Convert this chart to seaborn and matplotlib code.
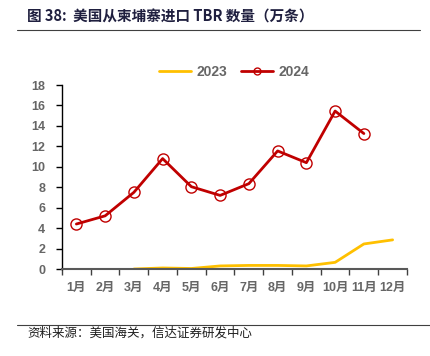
import numpy as np
import pandas as pd
import matplotlib
matplotlib.use("Agg")
import matplotlib.pyplot as plt
import seaborn as sns

months = ["1月", "2月", "3月", "4月", "5月", "6月", "7月", "8月", "9月", "10月", "11月", "12月"]
values_2023 = [None, None, 0.0, 0.1, 0.05, 0.3, 0.35, 0.35, 0.3, 0.65, 2.45, 2.85]
values_2024 = [4.4, 5.2, 7.5, 10.8, 8.05, 7.2, 8.35, 11.55, 10.4, 15.45, 13.25, None]
yticks = [0, 2, 4, 6, 8, 10, 12, 14, 16, 18]

sns.set_theme(style="white")
plt.rcParams['font.family'] = ['Liberation Sans', 'Noto Sans CJK SC', 'DejaVu Sans']

df = pd.DataFrame({
    "x": list(range(12)) * 2,
    "value": [np.nan if v is None else v for v in values_2023] + [np.nan if v is None else v for v in values_2024],
    "series": ["2023"] * 12 + ["2024"] * 12,
})

fig = plt.figure(figsize=(4.31, 3.56), dpi=100)
ax = fig.add_axes([62 / 431, 1 - 269 / 356, (407 - 62) / 431, (269 - 85) / 356])

d23 = df[df.series == "2023"].dropna()
d24 = df[df.series == "2024"].dropna()
sns.lineplot(data=d23, x="x", y="value", ax=ax, color="#FFC000", linewidth=2.0, label="2023")
sns.lineplot(data=d24, x="x", y="value", ax=ax, color="#C00000", linewidth=2.0,
             marker="o", markersize=8, markerfacecolor="none", markeredgecolor="#C00000",
             markeredgewidth=1.0, label="2024")

ax.set_xlim(-0.5, 11.5)
ax.set_ylim(0, 18)
ax.set_yticks(yticks)
ax.set_yticklabels([str(t) for t in yticks])
ax.set_xticks(range(12))
ax.set_xticklabels(months)
ax.set_xticks(np.arange(-0.5, 12, 1), minor=True)
ax.tick_params(axis="x", which="major", length=0, pad=9)
ax.tick_params(axis="x", which="minor", length=4, width=1, color="#404040", direction="out", bottom=True)
ax.tick_params(axis="y", length=4, width=1, color="black", direction="out", left=True, pad=8)
for lab in ax.get_xticklabels() + ax.get_yticklabels():
    lab.set_color("#666666")
    lab.set_fontsize(9)
    lab.set_fontweight("bold")
ax.set_xlabel("")
ax.set_ylabel("")
for s in ["top", "right"]:
    ax.spines[s].set_visible(False)
ax.spines["left"].set_color("black")
ax.spines["left"].set_linewidth(1.0)
ax.spines["bottom"].set_color("#595959")
ax.spines["bottom"].set_linewidth(1.5)
ax.grid(False)

leg = ax.legend(loc="center", bbox_to_anchor=(0.5, (269 - 71.5) / (269 - 85)), ncol=2,
                frameon=False, handlelength=2.3, handletextpad=0.4, columnspacing=1.0,
                prop={"weight": "bold", "size": 10})
for t in leg.get_texts():
    t.set_color("#666666")
leg.legend_handles[1].set_markersize(5)

fig.text(27 / 431, 1 - 17 / 356, "图 38:  美国从柬埔寨进口 TBR 数量（万条）", fontsize=10.5, fontweight="bold",
         color="#1F1F3F", va="center", ha="left", family=['Noto Sans CJK SC', 'DejaVu Sans'])
fig.add_artist(plt.Line2D([17 / 431, 420 / 431], [1 - 30 / 356, 1 - 30 / 356], color="#404040", linewidth=0.8))
fig.add_artist(plt.Line2D([17 / 431, 430 / 431], [1 - 325 / 356, 1 - 325 / 356], color="#404040", linewidth=0.8))
fig.text(27 / 431, 1 - 333 / 356, "资料来源：美国海关，信达证券研发中心", fontsize=9, color="#1F1F1F",
         va="center", ha="left", style="italic", family=['Noto Sans CJK SC', 'DejaVu Sans'])

fig.savefig("out.png", dpi=100)
